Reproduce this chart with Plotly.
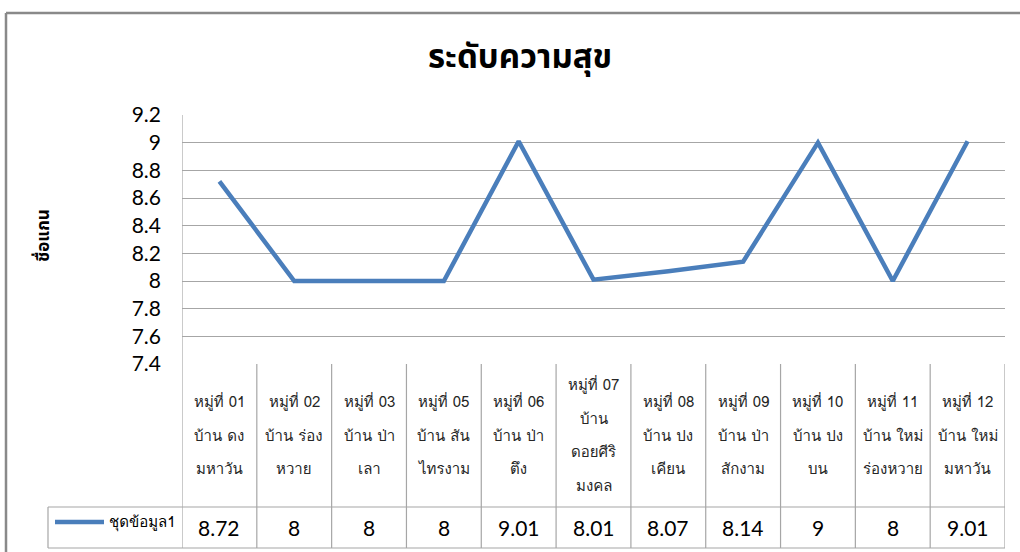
import plotly.graph_objects as go

# ---------------- data ----------------
title_text = "ระดับความสุข"
y_axis_title = "ชื่อแกน"
series_name = "ชุดข้อมูล1"
category_lines = [
    ["หมู่ที่ 01", "บ้าน ดง", "มหาวัน"],
    ["หมู่ที่ 02", "บ้าน ร่อง", "หวาย"],
    ["หมู่ที่ 03", "บ้าน ป่า", "เลา"],
    ["หมู่ที่ 05", "บ้าน สัน", "ไทรงาม"],
    ["หมู่ที่ 06", "บ้าน ป่า", "ตึง"],
    ["หมู่ที่ 07", "บ้าน", "ดอยศีริ", "มงคล"],
    ["หมู่ที่ 08", "บ้าน ปง", "เคียน"],
    ["หมู่ที่ 09", "บ้าน ป่า", "สักงาม"],
    ["หมู่ที่ 10", "บ้าน ปง", "บน"],
    ["หมู่ที่ 11", "บ้าน ใหม่", "ร่องหวาย"],
    ["หมู่ที่ 12", "บ้าน ใหม่", "มหาวัน"],
]
values = [8.72, 8, 8, 8, 9.01, 8.01, 8.07, 8.14, 9, 8, 9.01]
value_labels = ["8.72", "8", "8", "8", "9.01", "8.01", "8.07", "8.14", "9", "8", "9.01"]
y_tick_vals = [7.4, 7.6, 7.8, 8.0, 8.2, 8.4, 8.6, 8.8, 9.0, 9.2]
y_tick_text = ["7.4", "7.6", "7.8", "8", "8.2", "8.4", "8.6", "8.8", "9", "9.2"]

# ---------------- layout helpers ----------------
W, H = 1020, 552
def px(x):
    return x / W
def py(y):
    return 1 - y / H

LINE_BLUE = "#4a7ebb"
GRID = "#a6a6a6"
FRAME = "#898989"
NUM_FONT = "Lato, Carlito, Calibri, sans-serif"
THAI_FONT = "Loma, Garuda, Tahoma, Noto Sans Thai, Noto Sans, sans-serif"
THAI_TITLE_FONT = "Noto Sans Thai, Garuda, Loma, Noto Sans, sans-serif"

plot_left, plot_right, plot_top, plot_bottom = 182, 1005, 115, 364
row_split, table_bottom, legend_left = 507, 548, 48

n = len(values)
xs = list(range(n))

fig = go.Figure()
fig.add_trace(go.Scatter(
    x=xs, y=values, mode="lines", name=series_name,
    line=dict(color=LINE_BLUE, width=4.5), showlegend=False,
))

shapes = []
# outer frame
shapes.append(dict(type="line", xref="paper", yref="paper", x0=px(6), x1=px(1030), y0=py(13), y1=py(13),
                   line=dict(color=FRAME, width=2.5)))
shapes.append(dict(type="line", xref="paper", yref="paper", x0=px(6), x1=px(6), y0=py(13), y1=py(560),
                   line=dict(color=FRAME, width=2.5)))
# table vertical lines at category boundaries
for i in range(n + 1):
    b = i - 0.5
    y_top = plot_top if i == 0 else plot_bottom
    shapes.append(dict(type="line", xref="x", yref="paper", x0=b, x1=b, y0=py(y_top), y1=py(table_bottom),
                       line=dict(color=GRID, width=1.2)))
# table horizontal lines
for yy in (row_split, table_bottom):
    shapes.append(dict(type="line", xref="paper", yref="paper", x0=px(legend_left), x1=px(plot_right),
                       y0=py(yy), y1=py(yy), line=dict(color=GRID, width=1.2)))
shapes.append(dict(type="line", xref="paper", yref="paper", x0=px(legend_left), x1=px(legend_left),
                   y0=py(row_split), y1=py(table_bottom), line=dict(color=GRID, width=1.2)))
# legend key line
shapes.append(dict(type="line", xref="paper", yref="paper", x0=px(55), x1=px(104), y0=py(522), y1=py(522),
                   line=dict(color=LINE_BLUE, width=4.5)))

annotations = []
annotations.append(dict(text="<b>" + title_text + "</b>", x=px(520), y=py(58), xref="paper", yref="paper",
                        showarrow=False, xanchor="center", yanchor="middle",
                        font=dict(family=THAI_TITLE_FONT, size=33, color="#000000")))
annotations.append(dict(text="<b>" + y_axis_title + "</b>", x=px(44), y=py(236), xref="paper", yref="paper",
                        showarrow=False, textangle=-90, xanchor="center", yanchor="middle",
                        font=dict(family=THAI_TITLE_FONT, size=17, color="#000000")))
# category labels
center = (plot_bottom + row_split) / 2
spacing = 33.5
for i, lines in enumerate(category_lines):
    k = len(lines)
    for j, t in enumerate(lines):
        yy = center + (j - (k - 1) / 2) * spacing
        annotations.append(dict(text=t, x=i, y=py(yy), xref="x", yref="paper", showarrow=False,
                                xanchor="center", yanchor="middle",
                                font=dict(family=THAI_FONT, size=15, color="#262626")))
# values row
for i, v in enumerate(value_labels):
    annotations.append(dict(text=v, x=i, y=py(527), xref="x", yref="paper", showarrow=False,
                            xanchor="center", yanchor="middle",
                            font=dict(family=NUM_FONT, size=21, color="#000000")))
annotations.append(dict(text=series_name, x=px(178), y=py(522), xref="paper", yref="paper", showarrow=False,
                        xanchor="right", yanchor="middle",
                        font=dict(family=THAI_FONT, size=15, color="#000000")))

fig.update_layout(
    template="none",
    width=W, height=H,
    margin=dict(l=0, r=0, t=0, b=0, pad=0, autoexpand=False),
    paper_bgcolor="white", plot_bgcolor="white",
    showlegend=False,
    xaxis=dict(domain=[px(plot_left), px(plot_right)], range=[-0.5, n - 0.5], automargin=False,
               showticklabels=False, showgrid=False, zeroline=False, showline=False, ticks="", fixedrange=True),
    yaxis=dict(domain=[py(plot_bottom), py(plot_top)], range=[7.4, 9.2], automargin=False,
               tickvals=y_tick_vals, ticktext=y_tick_text, showgrid=True, gridcolor=GRID, gridwidth=1.2,
               zeroline=False, showline=False, ticks="", ticklabelstandoff=20,
               tickfont=dict(family=NUM_FONT, size=21, color="#000000")),
    shapes=shapes,
    annotations=annotations,
)

fig.write_html("out.html", config={"displayModeBar": False},
               post_script="document.body.style.margin='0';document.body.style.overflow='hidden';")
